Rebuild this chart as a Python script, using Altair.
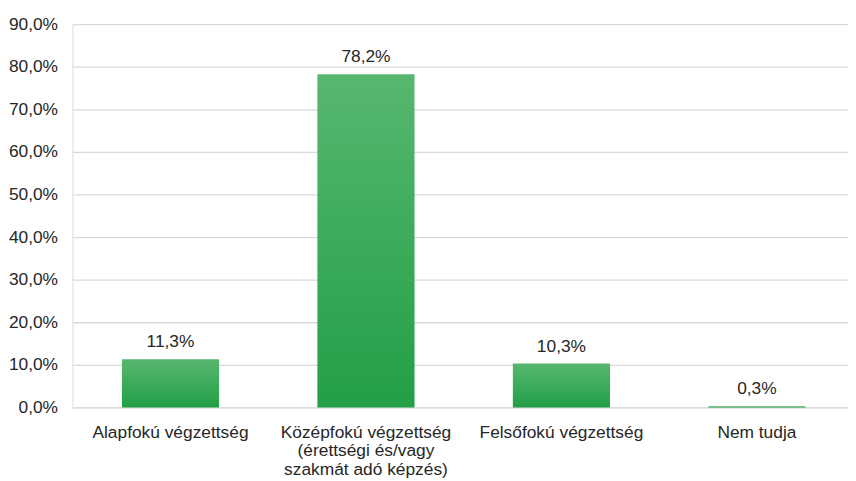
import altair as alt
import pandas as pd

categories = [
    "Alapfokú végzettség",
    "Középfokú végzettség\n(érettségi és/vagy\nszakmát adó képzés)",
    "Felsőfokú végzettség",
    "Nem tudja",
]
values = [0.113, 0.782, 0.103, 0.003]

df = pd.DataFrame({"cat": categories, "val": values})

FONT = "Liberation Sans"
TXT = "#262626"
FS = 17.5

base = alt.Chart(df).encode(
    x=alt.X(
        "cat:N",
        sort=categories,
        scale=alt.Scale(paddingInner=0.503, paddingOuter=0.2355, align=0.538),
        axis=alt.Axis(
            title=None,
            labelAngle=0,
            labelExpr="split(datum.label, '\\n')",
            labelFont=FONT,
            labelFontSize=FS,
            labelColor=TXT,
            labelLineHeight=19,
            labelPadding=16,
            ticks=False,
            domain=False,
            grid=False,
        ),
    ),
    y=alt.Y(
        "val:Q",
        scale=alt.Scale(domain=[0, 0.9], nice=False),
        axis=alt.Axis(
            title=None,
            values=[i / 10 for i in range(10)],
            labelExpr="replace(format(datum.value, '.1%'), '.', ',')",
            labelFont=FONT,
            labelFontSize=FS,
            labelColor=TXT,
            labelPadding=15,
            ticks=False,
            domain=False,
            grid=True,
            gridColor="#d9d9d9",
            gridWidth=1.3,
        ),
    ),
)

bars = base.mark_bar(
    color=alt.LinearGradient(
        gradient="linear",
        stops=[
            alt.GradientStop(color="#57b76f", offset=0),
            alt.GradientStop(color="#229f47", offset=1),
        ],
        x1=0, x2=0, y1=0, y2=1,
    )
)

labels = base.transform_calculate(
    lbl="replace(format(datum.val, '.1%'), '.', ',')"
).mark_text(
    baseline="alphabetic", dy=-12, font=FONT, fontSize=FS, color=TXT
).encode(text="lbl:N")

chart = (
    (bars + labels)
    .properties(
        width=783,
        height=387,
        autosize=alt.AutoSizeParams(type="none"),
        padding={"left": 65, "top": 14, "right": 0, "bottom": 72},
    )
    .configure_view(stroke=None)
    .configure(background="white")
)

chart.save("out.html", embed_options={"renderer": "svg", "actions": False})
